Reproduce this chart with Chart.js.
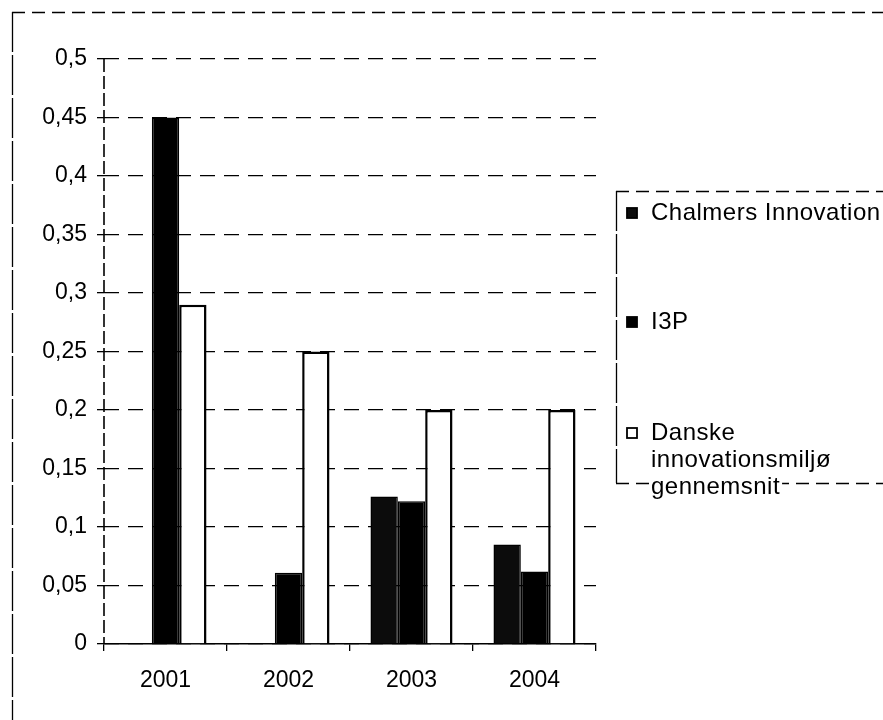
<!DOCTYPE html>
<html>
<head>
<meta charset="utf-8">
<script src="https://cdn.jsdelivr.net/npm/chart.js@4/dist/chart.umd.min.js"></script>
<style>
  html, body { margin: 0; padding: 0; background: #ffffff; }
  #wrap { width: 883px; height: 720px; position: relative; }
</style>
</head>
<body>
<div id="wrap"><canvas id="c" width="883" height="720"></canvas></div>
<script>
// Years on the category axis
const years = ['2001', '2002', '2003', '2004'];

// Series values per year (null = no bar that year)
const chalmersInnovation = [null, null, 0.126, 0.085];
const i3p = [0.45, 0.061, 0.122, 0.062];
const danskeGennemsnit = [0.29, 0.25, 0.2, 0.2];

// Series names as shown in the legend (multi-line entries as arrays)
const seriesNames = [
  ['Chalmers Innovation'],
  ['I3P'],
  ['Danske', 'innovationsmiljø', 'gennemsnit']
];

// Value axis range and step
const yMin = 0;
const yMax = 0.5;
const yStep = 0.05;

const FONT = '"Liberation Sans", Arial, sans-serif';

function fmtComma(v) {
  return String(+(+v).toFixed(2)).replace('.', ',');
}

// Page frame, dashed value axis and the boxed legend
const decorations = {
  id: 'decorations',
  afterDraw(chart) {
    const ctx = chart.ctx;
    const ys = chart.scales.y;
    ctx.save();
    ctx.strokeStyle = '#000';

    // outer frame (top and left edges)
    ctx.lineWidth = 1.3;
    ctx.setLineDash([13, 7]);
    ctx.beginPath();
    ctx.moveTo(12, 12.5);
    ctx.lineTo(883, 12.5);
    ctx.stroke();
    ctx.setLineDash([40, 3]);
    ctx.beginPath();
    ctx.moveTo(12.5, 12);
    ctx.lineTo(12.5, 720);
    ctx.stroke();

    // value axis line
    ctx.lineWidth = 1.6;
    ctx.setLineDash([13, 4]);
    ctx.beginPath();
    ctx.moveTo(ys.left + ys.width, ys.top);
    ctx.lineTo(ys.left + ys.width, ys.bottom);
    ctx.stroke();

    // legend box
    const bx = 616, by = 191, bb = 483;
    ctx.lineWidth = 1.3;
    ctx.setLineDash([13, 7]);
    ctx.beginPath();
    ctx.moveTo(bx, by + 0.5);
    ctx.lineTo(883, by + 0.5);
    ctx.stroke();
    ctx.beginPath();
    ctx.moveTo(bx, bb + 0.5);
    ctx.lineTo(883, bb + 0.5);
    ctx.stroke();
    ctx.setLineDash([40, 3]);
    ctx.beginPath();
    ctx.moveTo(bx + 0.5, by);
    ctx.lineTo(bx + 0.5, bb);
    ctx.stroke();
    ctx.setLineDash([]);

    // legend entries
    const rowY = [213, 322, 433];
    const lineH = 27;
    ctx.font = '24px ' + FONT;
    ctx.letterSpacing = '0.5px';
    ctx.textBaseline = 'middle';
    ctx.textAlign = 'left';
    chart.data.datasets.forEach((ds, i) => {
      const y = rowY[i];
      ctx.fillStyle = ds.backgroundColor;
      ctx.fillRect(627, y - 5, 10, 10);
      ctx.lineWidth = 1.8;
      ctx.strokeStyle = '#000';
      ctx.strokeRect(627, y - 5, 10, 10);
      seriesNames[i].forEach((line, k) => {
        const ty = y + k * lineH;
        const w = ctx.measureText(line).width;
        ctx.fillStyle = '#fff';
        ctx.fillRect(649, ty - 12, w + 4, 24);
        ctx.fillStyle = '#000';
        ctx.fillText(line, 651, ty);
      });
    });
    ctx.restore();
  }
};

new Chart(document.getElementById('c'), {
  type: 'bar',
  data: {
    labels: years,
    datasets: [
      {
        label: seriesNames[0].join(' '),
        data: chalmersInnovation,
        backgroundColor: '#0c0c0c',
        borderColor: '#000',
        borderWidth: 1.5
      },
      {
        label: seriesNames[1].join(' '),
        data: i3p,
        backgroundColor: '#000000',
        borderColor: '#000',
        borderWidth: 1.5
      },
      {
        label: seriesNames[2].join(' '),
        data: danskeGennemsnit,
        backgroundColor: '#ffffff',
        borderColor: '#000',
        borderWidth: 2.5
      }
    ]
  },
  options: {
    responsive: false,
    animation: false,
    events: [],
    layout: { padding: { top: 59, right: 287, bottom: 0, left: 0 } },
    datasets: {
      bar: { categoryPercentage: 0.667, barPercentage: 1.0 }
    },
    plugins: {
      legend: { display: false },
      tooltip: { enabled: false },
      title: { display: false }
    },
    scales: {
      x: {
        offset: true,
        grid: {
          display: true,
          offset: true,
          drawOnChartArea: false,
          drawTicks: true,
          tickLength: 7,
          color: '#000',
          lineWidth: 1.3
        },
        border: { display: true, color: '#000', width: 1.6 },
        ticks: {
          color: '#000',
          font: { family: FONT, size: 23 },
          padding: 16,
          maxRotation: 0
        },
        afterFit(scale) { scale.height = 76; }
      },
      y: {
        min: yMin,
        max: yMax,
        grid: {
          color: '#000',
          lineWidth: 1.3,
          tickLength: 7,
          tickColor: '#000',
          tickWidth: 1.3,
          tickBorderDash: []
        },
        border: { display: false, dash: [15, 9] },
        ticks: {
          stepSize: yStep,
          color: '#000',
          font: { family: FONT, size: 23 },
          padding: 10,
          callback: (v) => fmtComma(v)
        },
        afterFit(scale) { scale.width = 104; }
      }
    }
  },
  plugins: [decorations]
});
</script>
</body>
</html>
